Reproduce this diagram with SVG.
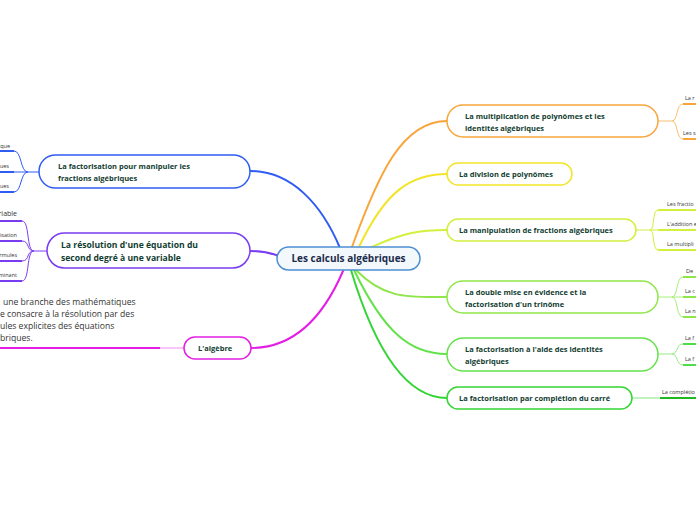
<svg xmlns="http://www.w3.org/2000/svg" width="696" height="520" viewBox="0 0 696 520">
<style>
.bg{fill:#ffffff}
.node{fill:#ffffff;stroke-width:1.5}
.nt{font-family:"Open Sans","Noto Sans",sans-serif;font-weight:700;font-size:7.5px;fill:#113d30}
.ct{font-family:"Open Sans","Noto Sans",sans-serif;font-weight:700;font-size:10px;fill:#1c2c4c}
.st{font-family:"Open Sans","Noto Sans",sans-serif;font-size:5.5px;fill:#333333}
.pt{font-family:"Open Sans","Noto Sans",sans-serif;font-size:8.6px;fill:#333333}
.main{fill:none;stroke-width:2;stroke-linecap:round}
.sub{fill:none;stroke-width:1}
.ul{fill:none;stroke-width:2}
</style>
<rect class="bg" x="0" y="0" width="696" height="520"/>
<g id="connectors">
  <path class="main" stroke="#2f5cf2" d="M340,248 C322,205 292,171 250,171"/>
  <path class="main" stroke="#7a3cf0" d="M279,256 C268,252 262,251 250,251"/>
  <path class="main" stroke="#e41ee4" d="M343,271 C322,320 292,348 251,348"/>
  <path class="main" stroke="#f9a53a" d="M352,247 C378,175 402,121 447,121"/>
  <path class="main" stroke="#f3e42a" d="M359,247 C385,192 410,174 447,174"/>
  <path class="main" stroke="#d2f03c" d="M372,247 C402,233 420,230 447,230"/>
  <path class="main" stroke="#8fe64a" d="M356,270 C385,300 410,297 447,297"/>
  <path class="main" stroke="#63e24a" d="M354,270 C384,332 410,354 447,354"/>
  <path class="main" stroke="#35d535" d="M351,270 C378,360 410,398 447,398"/>
  <path class="sub" stroke="#2f5cf2" d="M39,172 L28,172 C20,172 22,151 14,151 M28,172 L14,172 M28,172 C20,172 22,192 14,192"/>
  <path class="ul" stroke="#2f5cf2" d="M0,151 H14 M0,172 H14 M0,192 H14"/>
  <path class="sub" stroke="#7a3cf0" d="M47,251 L34,251 C26,251 30,221 22,221 M34,251 C26,251 30,241 22,241 M34,251 C26,251 30,261 22,261 M34,251 C26,251 30,281 22,281"/>
  <path class="ul" stroke="#7a3cf0" d="M0,221 H22 M0,241 H22 M0,261 H22 M0,281 H22"/>
  <path class="ul" stroke="#e41ee4" d="M0,348 H160"/>
  <path class="sub" stroke="#f08cf0" d="M160,348 H184"/>
  <path class="sub" stroke="#fbc070" stroke-width="1.5" d="M658,121 L672,121 C678,121 676,104 683,104 M672,121 C678,121 676,139 683,139"/>
  <path class="ul" stroke="#f9a53a" d="M683,104 H696 M683,139 H696"/>
  <path class="sub" stroke="#d2f03c" stroke-width="1.5" d="M636,230 L650,230 C655,230 652,210 658,210 M650,230 H658 M650,230 C655,230 652,250 658,250"/>
  <path class="ul" stroke="#d2f03c" d="M658,210 H696 M658,230 H696 M658,250 H696"/>
  <path class="sub" stroke="#a8ee78" stroke-width="1.5" d="M658,297 L672,297 C678,297 676,277 683,277 M672,297 H683 M672,297 C678,297 676,317 683,317"/>
  <path class="ul" stroke="#8fe64a" d="M683,277 H696 M683,297 H696 M683,317 H696"/>
  <path class="sub" stroke="#92ec80" stroke-width="1.5" d="M658,354 L672,354 C678,354 676,344 683,344 M672,354 C678,354 676,365 683,365"/>
  <path class="ul" stroke="#4fdc4a" d="M683,344 H696 M683,365 H696"/>
  <path class="sub" stroke="#7ee57e" stroke-width="1.5" d="M632,398 H660"/>
  <path class="ul" stroke="#22b822" d="M660,398 H696"/>
</g>
<g id="center">
  <rect x="277" y="247" width="143" height="23" rx="11.5" fill="#f3f8fd" stroke="#4d8fd2" stroke-width="1.5"/>
  <text class="ct" x="348.5" y="262" text-anchor="middle">Les calculs algébriques</text>
</g>
<g id="n-factorisation-fractions">
  <rect class="node" x="39" y="155" width="211" height="33" rx="16.5" stroke="#2f5cf2"/>
  <text class="nt" x="58" y="169">La factorisation pour manipuler les</text>
  <text class="nt" x="58" y="181">fractions algébriques</text>
</g>
<g id="n-resolution">
  <rect class="node" x="47" y="233" width="203" height="35" rx="17.5" stroke="#7a3cf0"/>
  <text class="nt" x="61" y="248" style="font-size:8.6px">La résolution d'une équation du</text>
  <text class="nt" x="61" y="261" style="font-size:8.6px">second degré à une variable</text>
</g>
<g id="n-algebre">
  <rect class="node" x="184" y="337" width="67" height="22" rx="11" stroke="#e41ee4"/>
  <text class="nt" x="198" y="351">L'algèbre</text>
</g>
<g id="n-multiplication">
  <rect class="node" x="447" y="105" width="211" height="32" rx="16" stroke="#f9a53a"/>
  <text class="nt" x="465" y="119">La multiplication de polynômes et les</text>
  <text class="nt" x="465" y="131">identités algébriques</text>
</g>
<g id="n-division">
  <rect class="node" x="447" y="163" width="125" height="22" rx="11" stroke="#f3e42a"/>
  <text class="nt" x="459" y="177">La division de polynômes</text>
</g>
<g id="n-manipulation">
  <rect class="node" x="447" y="219" width="189" height="22" rx="11" stroke="#d2f03c"/>
  <text class="nt" x="459" y="233">La manipulation de fractions algébriques</text>
</g>
<g id="n-double-mise">
  <rect class="node" x="447" y="281" width="211" height="32" rx="16" stroke="#8fe64a"/>
  <text class="nt" x="465" y="295">La double mise en évidence et la</text>
  <text class="nt" x="465" y="307">factorisation d'un trinôme</text>
</g>
<g id="n-identites">
  <rect class="node" x="447" y="338" width="211" height="33" rx="16.5" stroke="#63e24a"/>
  <text class="nt" x="465" y="352">La factorisation à l'aide des identités</text>
  <text class="nt" x="465" y="364">algébriques</text>
</g>
<g id="n-completion">
  <rect class="node" x="447" y="387" width="185" height="22" rx="11" stroke="#35d535"/>
  <text class="nt" x="459" y="401">La factorisation par complétion du carré</text>
</g>
<g id="children-text">
  <text class="st" x="10" y="148" text-anchor="end">ique</text>
  <text class="st" x="9" y="168" text-anchor="end">ues</text>
  <text class="st" x="9" y="188" text-anchor="end">ues</text>
  <text class="st" x="17" y="216" text-anchor="end" style="font-size:7px">riable</text>
  <text class="st" x="17" y="237" text-anchor="end">isation</text>
  <text class="st" x="17" y="257" text-anchor="end">rmules</text>
  <text class="st" x="17" y="277" text-anchor="end">minant</text>
  <text class="st" x="685" y="100">La r</text>
  <text class="st" x="683" y="135">Les s</text>
  <text class="st" x="667" y="206">Les fractio</text>
  <text class="st" x="667" y="226">L'addition e</text>
  <text class="st" x="667" y="246">La multipli</text>
  <text class="st" x="686" y="273">De</text>
  <text class="st" x="685" y="293">La c</text>
  <text class="st" x="685" y="313">La n</text>
  <text class="st" x="685" y="340">La f</text>
  <text class="st" x="685" y="361">La f</text>
  <text class="st" x="662" y="394">La complétio</text>
</g>
<g id="paragraph">
  <text class="pt" x="3" y="305">une branche des mathématiques</text>
  <text class="pt" x="0" y="317">e consacre à la résolution par des</text>
  <text class="pt" x="0" y="329">ules explicites des équations</text>
  <text class="pt" x="0" y="341">briques.</text>
</g>
</svg>
